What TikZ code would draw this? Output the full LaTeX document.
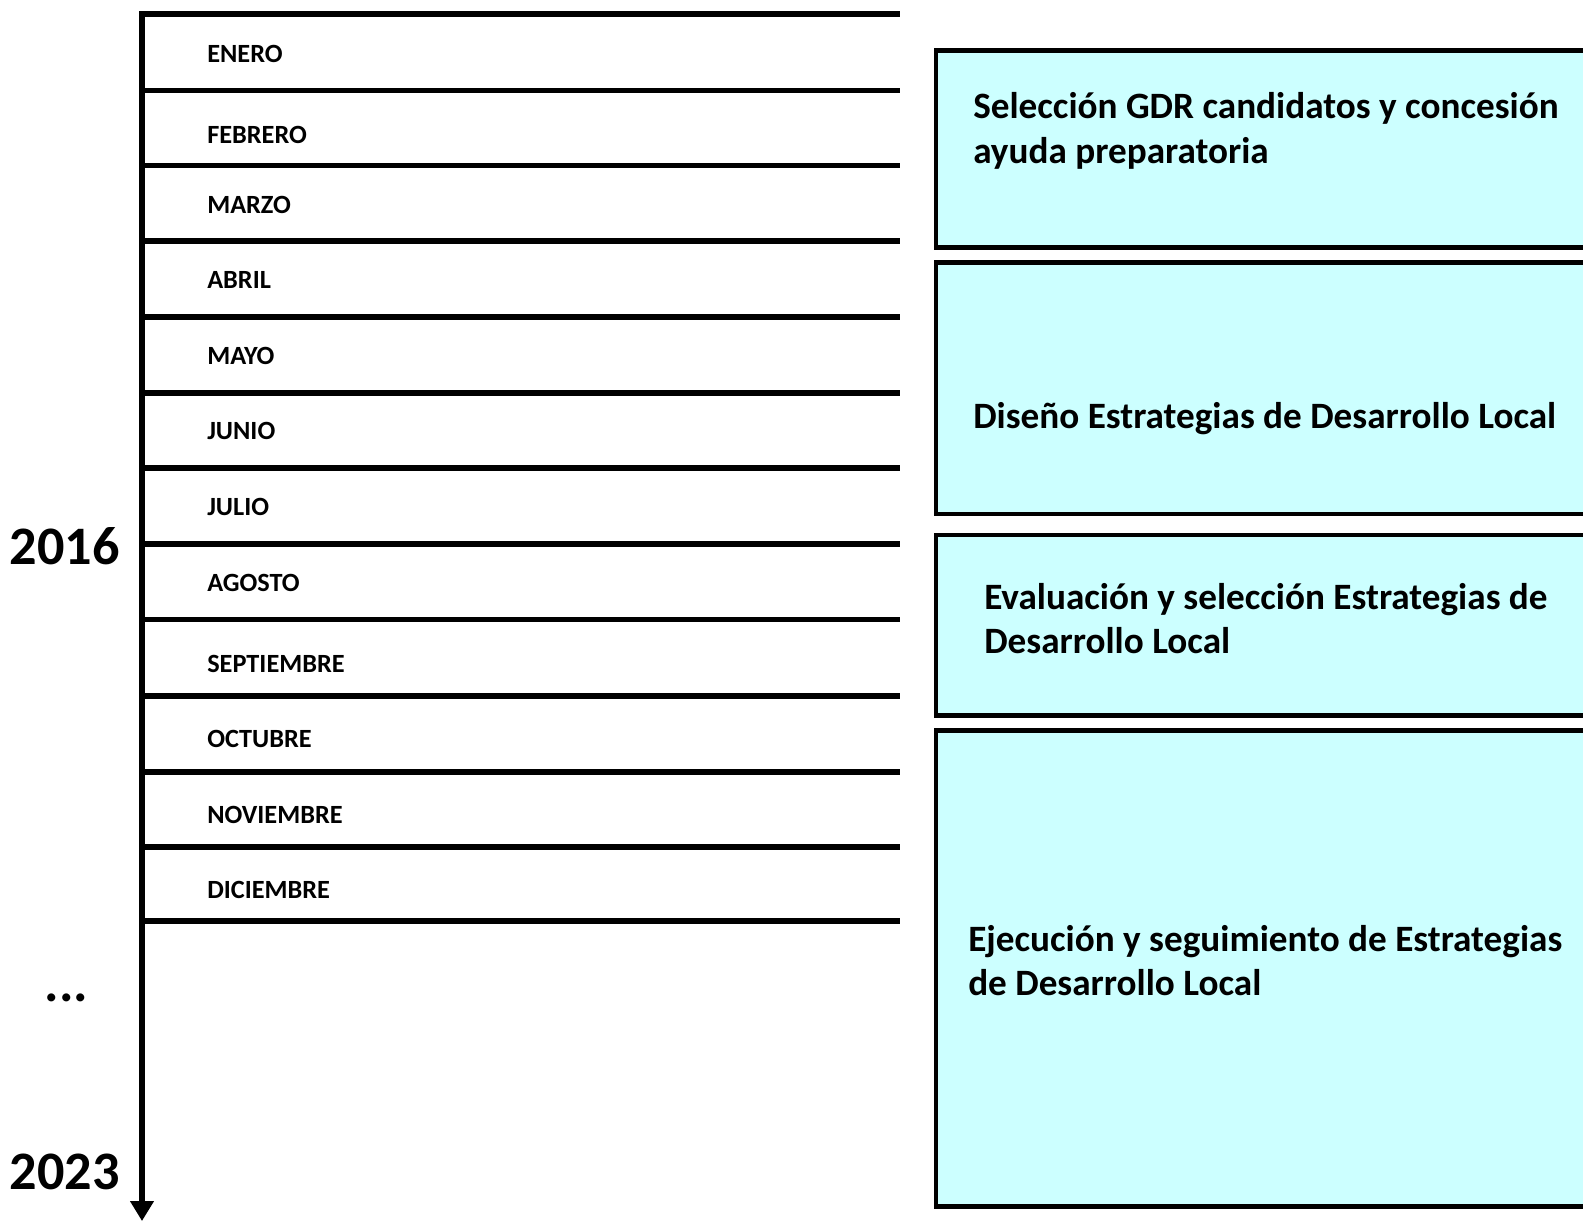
\documentclass[tikz,border=0pt]{standalone}
\usepackage{fontspec}
\setmainfont{Carlito}
\usetikzlibrary{arrows.meta}

\definecolor{cyanfill}{RGB}{204,255,255}

\begin{document}
\begin{tikzpicture}[scale=0.2646]
\tikzstyle{every node}+=[inner sep=0pt]
\tikzstyle{month}=[anchor=west, font=\fontsize{19.8}{24}\selectfont\bfseries]
\tikzstyle{year}=[anchor=east, font=\fontsize{40.8}{48}\selectfont\bfseries]
\tikzstyle{tick}=[black, line width=4.5pt]
\tikzstyle{phase}=[draw=black, fill=cyanfill, line width=3.75pt]
\tikzstyle{phasetext}=[anchor=west, align=left, font=\fontsize{28}{33.75}\selectfont\bfseries]
\clip (0,0) rectangle (158.3,-122.1);
\useasboundingbox (0,0) rectangle (158.3,-122.1);
% axis
\coordinate (top) at (14.2,-1.1);
\coordinate (bottom) at (14.2,-122.1);
\draw [black, line width=5.25pt, -{Triangle[width=17pt,length=15pt]}] (top) -- (bottom);
% month rules
\draw [tick] (14.2,-1.4) -- (90.0,-1.4);
\draw [tick] (14.2,-9.05) -- (90.0,-9.05);
\draw [tick] (14.2,-16.55) -- (90.0,-16.55);
\draw [tick] (14.2,-24.1) -- (90.0,-24.1);
\draw [tick] (14.2,-31.7) -- (90.0,-31.7);
\draw [tick] (14.2,-39.3) -- (90.0,-39.3);
\draw [tick] (14.2,-46.8) -- (90.0,-46.8);
\draw [tick] (14.2,-54.4) -- (90.0,-54.4);
\draw [tick] (14.2,-61.95) -- (90.0,-61.95);
\draw [tick] (14.2,-69.6) -- (90.0,-69.6);
\draw [tick] (14.2,-77.15) -- (90.0,-77.15);
\draw [tick] (14.2,-84.65) -- (90.0,-84.65);
\draw [tick] (14.2,-92.1) -- (90.0,-92.1);
% months
\node [month] (ene) at (20.7,-5.35) {ENERO};
\node [month] (feb) at (20.7,-13.45) {FEBRERO};
\node [month] (mar) at (20.7,-20.45) {MARZO};
\node [month] (abr) at (20.7,-28.0) {ABRIL};
\node [month] (may) at (20.7,-35.55) {MAYO};
\node [month] (jun) at (20.7,-43.1) {JUNIO};
\node [month] (jul) at (20.7,-50.7) {JULIO};
\node [month] (ago) at (20.7,-58.3) {AGOSTO};
\node [month] (sep) at (20.7,-66.35) {SEPTIEMBRE};
\node [month] (oct) at (20.7,-73.85) {OCTUBRE};
\node [month] (nov) at (20.7,-81.45) {NOVIEMBRE};
\node [month] (dic) at (20.7,-89.0) {DICIEMBRE};
% years
\node [year] (y2016) at (12.0,-54.6) {2016};
\node [year] (y2023) at (12.0,-117.2) {2023};
\node [year, anchor=base] (dots) at (6.65,-100.1) {...};
% phases
\draw [phase] (93.6,-5.05) rectangle (160,-24.75);
\node [phasetext] (fase1) at (97.3,-13.05) {Selección GDR candidatos y concesión\\ayuda preparatoria};
\draw [phase] (93.6,-26.25) rectangle (160,-51.4);
\node [phasetext] (fase2) at (97.3,-41.9) {Diseño Estrategias de Desarrollo Local};
\draw [phase] (93.6,-53.5) rectangle (160,-71.5);
\node [phasetext] (fase3) at (98.4,-61.85) {Evaluación y selección Estrategias de\\Desarrollo Local};
\draw [phase] (93.6,-73.05) rectangle (160,-120.6);
\node [phasetext] (fase4) at (96.8,-96.05) {Ejecución y seguimiento de Estrategias\\de Desarrollo Local};
\end{tikzpicture}
\end{document}
